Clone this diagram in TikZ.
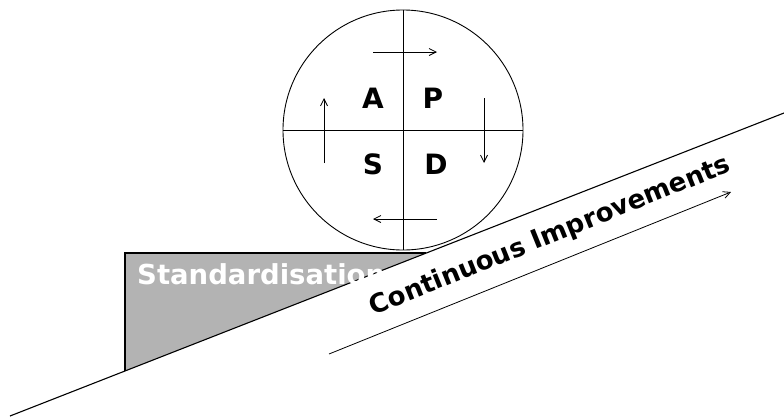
\documentclass[tikz,border=0pt]{standalone}
\usepackage{fontspec}
\setmainfont{DejaVu Sans}
\usetikzlibrary{arrows.meta}
\definecolor{wedgegray}{HTML}{B3B3B3}
\tikzset{
  thinline/.style={line width=0.8pt, draw=black},
  cyclearrow/.style={line width=0.8pt, -{Straight Barb[length=7pt,width=7pt]}},
  letter/.style={font=\fontsize{28}{28}\selectfont\bfseries, inner sep=0pt, anchor=base},
}
\begin{document}
\begin{tikzpicture}[x=1pt,y=-1pt]
\useasboundingbox (0,0) rectangle (784,416);
% wedge
\coordinate (t1) at (125,253);
\coordinate (t2) at (426,253);
\coordinate (t3) at (125,371);
\fill[wedgegray] (t1) -- (t2) -- (t3) -- cycle;
\draw[line width=1.2pt] (t3) -- (t1) -- (t2);
% slope
\coordinate (s1) at (10,416);
\coordinate (s2) at (784,113);
\draw[line width=1.1pt] (s1) -- (s2);
% standardisation text
\node[anchor=base west, inner sep=0pt, text=white, font=\fontsize{27.5}{27.5}\selectfont\bfseries] (std) at (137,284) {Standardisation};
% circle
\node[circle, draw, line width=0.9pt, minimum size=240pt, inner sep=0pt] (c) at (403,130) {};
\draw[thinline] (c.north) -- (c.south);
\draw[thinline] (c.west) -- (c.east);
% arrows
\coordinate (a1) at (373,52);  \coordinate (a2) at (437,52);
\coordinate (b1) at (484,98);  \coordinate (b2) at (484,163);
\coordinate (d1) at (437,219); \coordinate (d2) at (373,219);
\coordinate (e1) at (324,163); \coordinate (e2) at (324,98);
\draw[cyclearrow] (a1) -- (a2);
\draw[cyclearrow] (b1) -- (b2);
\draw[cyclearrow] (d1) -- (d2);
\draw[cyclearrow] (e1) -- (e2);
% letters
\node[letter] (A) at (373,108) {A};
\node[letter] (P) at (433,108) {P};
\node[letter] (S) at (373,174) {S};
\node[letter] (D) at (436,174) {D};
% continuous improvements
\node[rotate=22, anchor=base, font=\fontsize{26}{26}\selectfont\bfseries, inner sep=0pt] (ci) at (553,243) {Continuous Improvements};
\coordinate (ci1) at (329,354);
\coordinate (ci2) at (731,192);
\draw[cyclearrow] (ci1) -- (ci2);
\end{tikzpicture}
\end{document}
